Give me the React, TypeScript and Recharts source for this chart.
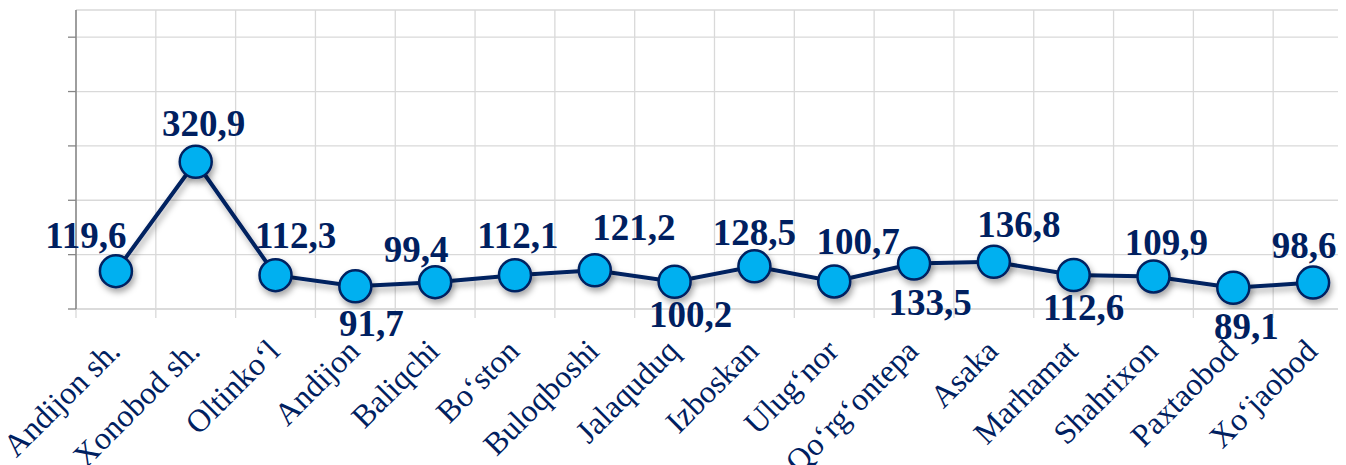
import React from 'react';
import { LineChart, Line, XAxis, YAxis, CartesianGrid, LabelList } from 'recharts';

const categories = [
  'Andijon sh.', 'Xonobod sh.', 'Oltinko‘l', 'Andijon', 'Baliqchi', 'Bo‘ston', 'Buloqboshi', 'Jalaquduq',
  'Izboskan', 'Ulug‘nor', 'Qo‘rg‘ontepa', 'Asaka', 'Marhamat', 'Shahrixon', 'Paxtaobod', 'Xo‘jaobod',
];
const values = [119.6, 320.9, 112.3, 91.7, 99.4, 112.1, 121.2, 100.2, 128.5, 100.7, 133.5, 136.8, 112.6, 109.9, 89.1, 98.6];
const yTicks = [50, 150, 250, 350, 450, 550];
const yDomain = [50, 600];
const gridTicks = [0, 1, 2, 3, 4, 5, 6, 7, 8, 9, 10, 11, 12, 13, 14, 15, 16];

const data = categories.map((name, i) => ({ name, value: values[i], pos: i + 0.5 }));

const NAVY = '#002060';
const CYAN = '#00b0f0';
const GRID = '#d9d9d9';
const AXIS = '#868686';
const SERIF = '"Liberation Serif", "Times New Roman", serif';

// label placement (dx from point centre, baseline dy from point)
const labelOffsets: [number, number][] = [
  [-30, -23], [8, -26], [20, -27], [16, 50], [-19, -20], [3, -27], [39, -30], [16, 45],
  [0, -21], [24, -27], [16, 51], [25, -25], [10, 45], [13, -21], [13, 51], [-9, -25],
];

const Empty = () => <g />;

const CatTick = (props: any) => {
  const { x, y, payload } = props;
  const tx = x + 6;
  const ty = y + 35;
  return (
    <text x={tx} y={ty} transform={`rotate(-45, ${tx}, ${ty})`} textAnchor="end" fontFamily={SERIF} fontSize={32} fill={NAVY}>
      {payload.value}
    </text>
  );
};

const renderLabel = (props: any) => {
  const { index, value } = props;
  const x = props.x ?? props.viewBox?.x;
  const y = props.y ?? props.viewBox?.y;
  const [dx, dy] = labelOffsets[index] || [0, -20];
  return (
    <text x={x + dx} y={y + dy} textAnchor="middle" fontFamily={SERIF} fontWeight="bold" fontSize={37} fill={NAVY}>
      {String(value).replace('.', ',')}
    </text>
  );
};

export default function App() {
  return (
    <div style={{ position: 'relative', width: 1346, height: 465, overflow: 'hidden', margin: '-8px 0 0 -8px', background: '#fff' }}>
      <style>{`.recharts-line-curve{filter:url(#sh);}`}</style>
      <svg width={0} height={0} style={{ position: 'absolute' }}>
        <defs>
          <filter id="sh" x="-50%" y="-50%" width="200%" height="200%">
            <feDropShadow dx="2" dy="4" stdDeviation="3" floodColor="#000" floodOpacity="0.35" />
          </filter>
        </defs>
      </svg>
      <LineChart width={1353} height={465} data={data} margin={{ top: 10, right: 0, bottom: 0, left: 0 }}>
        <CartesianGrid xAxisId="a" stroke={GRID} strokeWidth={1.3} />
        <XAxis
          xAxisId="a"
          type="number"
          dataKey="pos"
          domain={[0, 16]}
          ticks={gridTicks}
          allowDataOverflow
          interval={0}
          tickSize={9}
          tickLine={{ stroke: GRID, strokeWidth: 1.3 }}
          axisLine={{ stroke: GRID, strokeWidth: 1.3 }}
          tick={<Empty />}
          height={9}
        />
        <XAxis
          xAxisId="b"
          dataKey="name"
          scale="band"
          interval={0}
          tickLine={false}
          axisLine={false}
          tickSize={0}
          tickMargin={0}
          tick={<CatTick />}
          height={147}
        />
        <YAxis
          domain={yDomain}
          ticks={yTicks}
          allowDataOverflow
          width={76}
          tickSize={8}
          tickLine={{ stroke: AXIS, strokeWidth: 1.3 }}
          axisLine={{ stroke: AXIS, strokeWidth: 1.5 }}
          tick={<Empty />}
        />
        <Line
          xAxisId="b"
          dataKey="value"
          stroke={NAVY}
          strokeWidth={4}
          isAnimationActive={false}
          dot={{ r: 16, fill: CYAN, stroke: NAVY, strokeWidth: 2.5, filter: 'url(#sh)' }}
          activeDot={false}
        >
          <LabelList dataKey="value" content={renderLabel} />
        </Line>
      </LineChart>
    </div>
  );
}
